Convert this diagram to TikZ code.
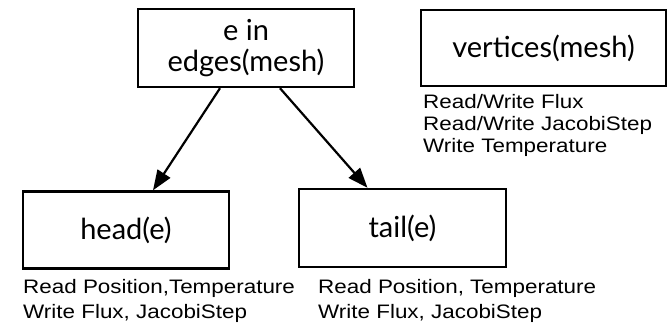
\documentclass[tikz,border=0pt]{standalone}
\usepackage{fontspec}
\usetikzlibrary{arrows.meta}
\newfontfamily\boxfont{Lato}
\newfontfamily\notefont[FakeStretch=1.15]{Liberation Sans}
\begin{document}
\begin{tikzpicture}[x=1pt,y=-1pt,
  loopbox/.style={draw,line width=2.4pt,rectangle,inner sep=0pt,
    font=\boxfont\fontsize{29}{31}\selectfont,align=center},
  note/.style={anchor=base west,inner sep=0pt,align=left,
    font=\notefont\fontsize{19.5}{22}\selectfont},
  link/.style={line width=2.2pt,-{Triangle[length=20pt,width=15pt]}}]
\useasboundingbox (0,0) rectangle (669,322);

% iteration sets
\node[loopbox,minimum width=216pt,minimum height=78pt] (edges) at (246,48) {e in\\edges(mesh)};
\node[loopbox,minimum width=245pt,minimum height=76pt] (verts) at (543.5,48) {vertices(mesh)};
\node[loopbox,minimum width=206pt,minimum height=77pt] (head) at (126,230) {head(e)};
\node[loopbox,minimum width=207pt,minimum height=78pt] (tail) at (402.5,228) {tail(e)};

% access annotations (anchored at the baseline of the last line)
\node[note] (vnote) at (423,152) {Read/Write Flux\\Read/Write JacobiStep\\Write Temperature};
\node[note,font=\notefont\fontsize{19.5}{25}\selectfont] (hnote) at (23,318) {Read Position,Temperature\\Write Flux, JacobiStep};
\node[note,font=\notefont\fontsize{19.5}{25}\selectfont] (tnote) at (318,318) {Read Position, Temperature\\Write Flux, JacobiStep};

% edge to endpoint connectors
\draw[link] ([xshift=-26pt]edges.south) -- ([xshift=27pt]head.north);
\draw[link] ([xshift=34pt]edges.south) -- ([xshift=-35pt]tail.north);
\end{tikzpicture}
\end{document}
